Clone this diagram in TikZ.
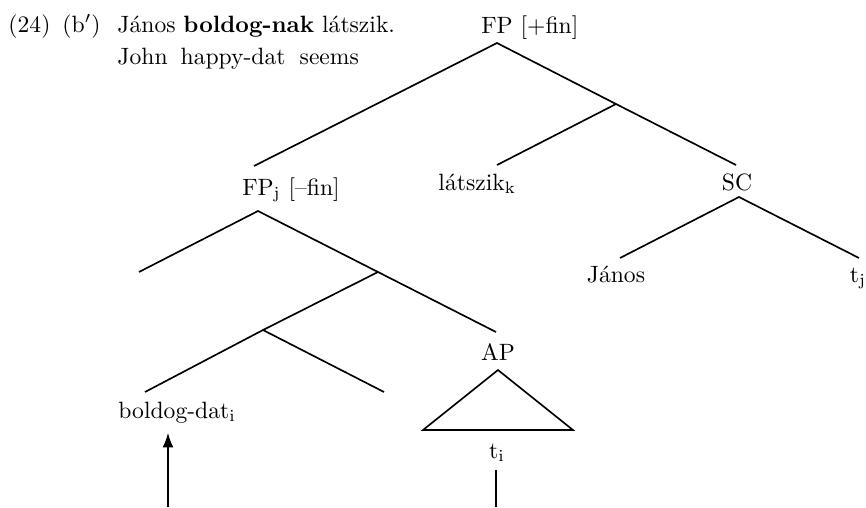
\documentclass[tikz,border=0pt]{standalone}
\usetikzlibrary{arrows.meta,positioning}

\tikzset{
  lbl/.style={inner sep=0pt, anchor=base},
  br/.style={line width=0.7pt}
}

\begin{document}
\begin{tikzpicture}[x=0.4237pt,y=-0.4237pt]
	\useasboundingbox (0,0) rectangle (866,507);
	% example sentence and gloss
	\node[lbl, anchor=base west] (num) at (8,32) {(24)};
	\node[lbl, anchor=base west] (sub) at (62,32) {(b$'$)};
	\node[lbl, anchor=base west] (sent) at (117,32) {János \textbf{boldog-nak} látszik.};
	\node[lbl, anchor=base west] (gloss) at (117,64) {John\hspace{5.5pt}happy-dat\hspace{6pt}seems};
	% labels
	\node[lbl] (fp) at (497,33) {FP\rlap{\ [+fin]}};
	\node[lbl] (fpj) at (258,195) {FP\rlap{$_{\mathrm{j}}$\ [--fin]}};
	\node[lbl, anchor=base west] (lat) at (438,190) {látszik$_{\mathrm{k}}$};
	\node[lbl] (sc) at (737,190) {SC};
	\node[lbl] (janos) at (616,282) {János};
	\node[lbl] (tj) at (858,282) {t$_{\mathrm{j}}$};
	\node[lbl] (ap) at (498,360) {AP};
	\node[lbl] (ti) at (497,458) {t$_{\mathrm{i}}$};
	\node[lbl, anchor=base west] (bd) at (118,418) {boldog-dat$_{\mathrm{i}}$};
	% branch points
	\coordinate (fp-top) at (497,43);
	\coordinate (fpj-end) at (254,166);
	\coordinate (m1) at (616,104);
	\coordinate (sc-end) at (736,165);
	\coordinate (lat-end) at (497,165);
	\coordinate (sc-top) at (739,197);
	\coordinate (sc-l) at (620,258);
	\coordinate (sc-r) at (859,258);
	\coordinate (fpj-top) at (258,211);
	\coordinate (e1) at (139,272);
	\coordinate (m2) at (378,272);
	\coordinate (ap-end) at (496,332);
	\coordinate (m3) at (263,330);
	\coordinate (bd-end) at (145,392);
	\coordinate (e2) at (384,392);
	\coordinate (tri-top) at (498,370);
	\coordinate (tri-l) at (423,430);
	\coordinate (tri-r) at (573,430);
	\coordinate (ti-foot) at (496,507);
	\coordinate (bd-foot) at (168,507);
	% tree
	\draw[br] (fpj-end) -- (fp-top) -- (m1) -- (sc-end);
	\draw[br] (m1) -- (lat-end);
	\draw[br] (sc-l) -- (sc-top) -- (sc-r);
	\draw[br] (e1) -- (fpj-top) -- (m2) -- (ap-end);
	\draw[br] (m2) -- (m3) -- (bd-end);
	\draw[br] (m3) -- (e2);
	\draw[br] (tri-top) -- (tri-l) -- (tri-r) -- cycle;
	\draw[br, shorten >=3.5pt] (ti-foot) -- (ti-foot |- ti.south);
	\draw[br, -{Latex}, shorten >=4pt] (bd-foot) -- (bd-foot |- bd.south);
\end{tikzpicture}
\end{document}
